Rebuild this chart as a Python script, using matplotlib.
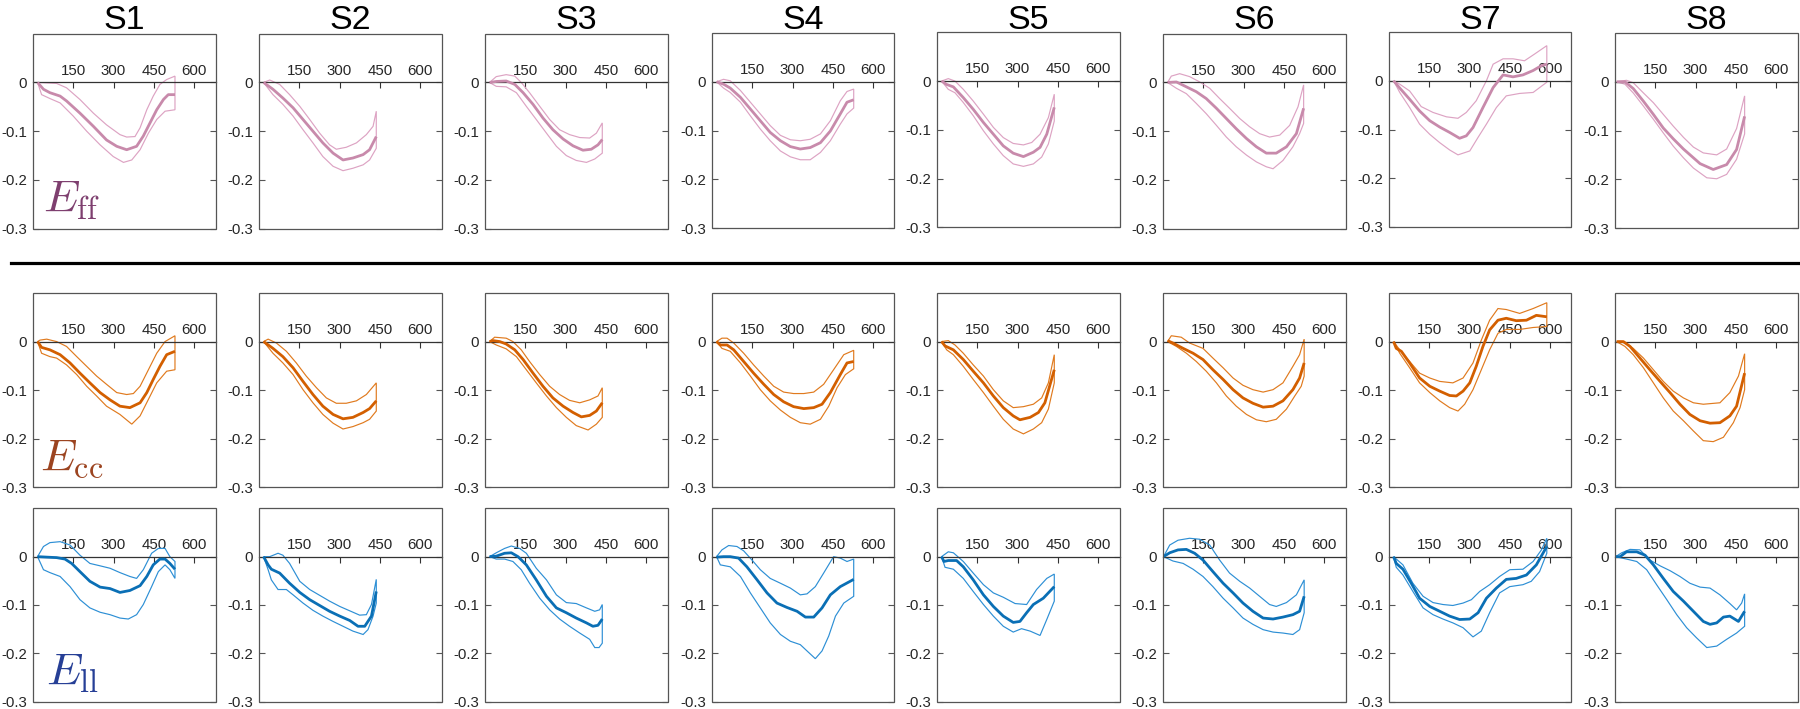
import numpy as np
import matplotlib
matplotlib.use("Agg")
import matplotlib.pyplot as plt
from matplotlib.patches import Rectangle
from matplotlib.lines import Line2D

plt.rcParams['font.family'] = ['Liberation Sans', 'DejaVu Sans']
plt.rcParams['mathtext.fontset'] = 'cm'

subjects = ['S1', 'S2', 'S3', 'S4', 'S5', 'S6', 'S7', 'S8']
y_ticks = [-0.3, -0.2, -0.1, 0.0]
y_tick_labels = ['-0.3', '-0.2', '-0.1', '0']
x_ticks = [150, 300, 450, 600]
x_tick_labels = ['150', '300', '450', '600']
row_labels = [r'$E_{\mathrm{ff}}$', r'$E_{\mathrm{cc}}$', r'$E_{\mathrm{ll}}$']

# ---------------- E_ff ----------------
eff_mean = {
    'S1': ([17, 39, 63, 101, 125, 175, 225, 274, 312, 349, 386, 411, 436, 461, 486, 504, 529],
           [0, -0.014, -0.021, -0.028, -0.038, -0.063, -0.09, -0.118, -0.131, -0.138, -0.131, -0.11, -0.083, -0.056, -0.035, -0.025, -0.025]),
    'S2': ([17, 52, 89, 127, 164, 201, 238, 276, 313, 350, 388, 412, 437],
           [0, -0.014, -0.032, -0.052, -0.076, -0.1, -0.124, -0.145, -0.159, -0.155, -0.148, -0.138, -0.111]),
    'S3': ([17, 42, 79, 111, 142, 179, 216, 253, 291, 328, 365, 396, 421, 437],
           [0, 0.002, 0.003, -0.004, -0.021, -0.045, -0.073, -0.097, -0.116, -0.13, -0.139, -0.137, -0.128, -0.117]),
    'S4': ([17, 43, 68, 106, 143, 180, 217, 255, 292, 329, 366, 404, 441, 478, 503, 528],
           [0, -0.005, -0.013, -0.032, -0.056, -0.08, -0.104, -0.121, -0.133, -0.138, -0.135, -0.125, -0.101, -0.066, -0.042, -0.037]),
    'S5': ([17, 36, 61, 98, 135, 173, 210, 247, 284, 322, 359, 384, 409, 437],
           [0, -0.007, -0.012, -0.034, -0.058, -0.085, -0.109, -0.133, -0.148, -0.155, -0.146, -0.136, -0.109, -0.054]),
    'S6': ([17, 50, 87, 124, 161, 199, 236, 273, 311, 348, 385, 422, 460, 497, 524],
           [0, 0.001, -0.009, -0.019, -0.033, -0.053, -0.074, -0.095, -0.115, -0.132, -0.145, -0.145, -0.132, -0.105, -0.053]),
    'S7': ([17, 40, 77, 114, 152, 189, 226, 263, 288, 313, 350, 388, 425, 462, 499, 537, 568, 588],
           [0, -0.015, -0.038, -0.062, -0.082, -0.095, -0.106, -0.118, -0.113, -0.096, -0.055, -0.014, 0.012, 0.008, 0.012, 0.021, 0.031, 0.034]),
    'S8': ([6, 37, 68, 106, 143, 180, 217, 255, 317, 366, 416, 453, 483],
           [0, 0, -0.014, -0.04, -0.067, -0.095, -0.117, -0.138, -0.168, -0.18, -0.17, -0.139, -0.071]),
}
eff_upper = {
    'S1': ([17, 88, 125, 175, 225, 274, 324, 349, 380, 399, 424, 448, 473, 498, 529],
           [0, -0.002, -0.011, -0.035, -0.063, -0.087, -0.107, -0.112, -0.111, -0.093, -0.056, -0.028, -0.004, 0.006, 0.013]),
    'S2': ([17, 40, 77, 114, 152, 189, 226, 263, 288, 325, 363, 400, 425, 437],
           [0, 0.005, -0.004, -0.025, -0.049, -0.076, -0.104, -0.128, -0.137, -0.133, -0.124, -0.107, -0.09, -0.059]),
    'S3': ([17, 42, 79, 111, 135, 166, 204, 241, 278, 315, 353, 390, 415, 437],
           [0, 0.012, 0.016, 0.013, 0, -0.021, -0.049, -0.076, -0.097, -0.107, -0.113, -0.114, -0.104, -0.083]),
    'S4': ([17, 43, 68, 106, 143, 180, 217, 255, 292, 329, 366, 404, 441, 478, 503, 528],
           [0, 0.005, 0.002, -0.018, -0.042, -0.066, -0.09, -0.11, -0.119, -0.121, -0.118, -0.107, -0.08, -0.039, -0.02, -0.015]),
    'S5': ([17, 42, 67, 98, 135, 173, 210, 247, 284, 322, 353, 384, 415, 437],
           [0, 0.005, 0, -0.017, -0.041, -0.068, -0.095, -0.116, -0.128, -0.131, -0.126, -0.109, -0.075, -0.027]),
    'S6': ([17, 31, 62, 99, 137, 174, 211, 248, 286, 323, 360, 397, 435, 472, 503, 524],
           [0, 0.013, 0.018, 0.012, 0.001, -0.012, -0.033, -0.053, -0.074, -0.091, -0.105, -0.112, -0.108, -0.088, -0.05, -0.005]),
    'S7': ([17, 40, 77, 120, 164, 214, 257, 288, 325, 363, 388, 425, 462, 505, 543, 588],
           [0, -0.007, -0.021, -0.053, -0.065, -0.074, -0.077, -0.065, -0.041, 0, 0.034, 0.045, 0.045, 0.041, 0.055, 0.072]),
    'S8': ([6, 43, 68, 106, 143, 180, 217, 255, 292, 329, 379, 416, 453, 483],
           [0, 0.003, -0.002, -0.023, -0.043, -0.067, -0.091, -0.114, -0.134, -0.146, -0.15, -0.138, -0.096, -0.029]),
}
eff_lower = {
    'S1': ([17, 32, 63, 101, 150, 200, 250, 299, 337, 368, 399, 430, 461, 492, 529],
           [0, -0.025, -0.033, -0.042, -0.069, -0.1, -0.128, -0.152, -0.164, -0.159, -0.138, -0.104, -0.076, -0.059, -0.056]),
    'S2': ([17, 52, 89, 127, 164, 201, 238, 276, 313, 350, 388, 412, 437],
           [0, -0.025, -0.045, -0.069, -0.097, -0.124, -0.152, -0.172, -0.181, -0.176, -0.169, -0.159, -0.135]),
    'S3': ([17, 42, 79, 117, 154, 191, 229, 266, 303, 340, 378, 409, 437],
           [0, -0.008, -0.009, -0.021, -0.049, -0.076, -0.104, -0.131, -0.15, -0.16, -0.164, -0.157, -0.145]),
    'S4': ([17, 43, 68, 106, 143, 180, 217, 255, 292, 329, 366, 404, 441, 478, 503, 528],
           [0, -0.013, -0.022, -0.042, -0.07, -0.097, -0.121, -0.142, -0.154, -0.16, -0.16, -0.145, -0.121, -0.087, -0.066, -0.054]),
    'S5': ([17, 42, 67, 98, 135, 173, 210, 247, 284, 322, 359, 390, 415, 437],
           [0, -0.017, -0.024, -0.044, -0.071, -0.102, -0.129, -0.153, -0.17, -0.175, -0.17, -0.156, -0.129, -0.082]),
    'S6': ([17, 50, 87, 124, 161, 199, 236, 273, 311, 348, 385, 410, 447, 484, 509, 524],
           [0, -0.012, -0.023, -0.043, -0.064, -0.088, -0.112, -0.132, -0.149, -0.163, -0.173, -0.177, -0.16, -0.132, -0.105, -0.084]),
    'S7': ([17, 40, 77, 114, 152, 189, 226, 257, 301, 332, 363, 400, 437, 487, 537, 588],
           [0, -0.024, -0.055, -0.089, -0.11, -0.127, -0.142, -0.152, -0.144, -0.116, -0.089, -0.055, -0.031, -0.026, -0.024, -0.003]),
    'S8': ([6, 37, 68, 106, 143, 180, 217, 255, 292, 342, 379, 416, 453, 483],
           [0, -0.005, -0.023, -0.05, -0.077, -0.105, -0.132, -0.156, -0.177, -0.197, -0.199, -0.19, -0.159, -0.107]),
}

# ---------------- E_cc ----------------
ecc_mean = {
    'S1': ([17, 32, 63, 101, 138, 175, 212, 250, 287, 324, 361, 399, 424, 448, 473, 498, 529],
           [0, -0.012, -0.017, -0.027, -0.044, -0.065, -0.085, -0.105, -0.12, -0.133, -0.136, -0.126, -0.105, -0.078, -0.051, -0.027, -0.02]),
    'S2': ([17, 52, 89, 127, 164, 201, 238, 276, 313, 350, 388, 412, 437],
           [0, -0.014, -0.031, -0.054, -0.082, -0.109, -0.133, -0.15, -0.159, -0.156, -0.146, -0.138, -0.122]),
    'S3': ([17, 30, 55, 79, 111, 142, 179, 216, 253, 291, 328, 359, 390, 415, 437],
           [0, 0.002, 0, -0.005, -0.017, -0.037, -0.065, -0.092, -0.116, -0.133, -0.146, -0.155, -0.152, -0.143, -0.126]),
    'S4': ([17, 31, 56, 81, 118, 155, 193, 230, 267, 304, 342, 379, 410, 441, 478, 503, 528],
           [0, -0.007, -0.007, -0.017, -0.041, -0.065, -0.088, -0.109, -0.124, -0.134, -0.138, -0.136, -0.129, -0.105, -0.068, -0.044, -0.041]),
    'S5': ([17, 30, 61, 98, 135, 173, 210, 247, 284, 309, 347, 378, 402, 437],
           [0, -0.009, -0.017, -0.037, -0.061, -0.085, -0.112, -0.136, -0.153, -0.161, -0.156, -0.146, -0.126, -0.058]),
    'S6': ([17, 37, 75, 112, 149, 186, 224, 261, 298, 335, 373, 410, 447, 484, 509, 526],
           [0.002, -0.003, -0.014, -0.024, -0.037, -0.058, -0.078, -0.099, -0.116, -0.127, -0.135, -0.133, -0.122, -0.099, -0.075, -0.044]),
    'S7': ([17, 27, 46, 77, 114, 152, 189, 226, 251, 276, 301, 325, 350, 375, 406, 437, 474, 512, 549, 588],
           [0, -0.014, -0.02, -0.044, -0.075, -0.092, -0.102, -0.111, -0.112, -0.102, -0.085, -0.051, -0.01, 0.024, 0.044, 0.048, 0.043, 0.044, 0.054, 0.051]),
    'S8': ([6, 31, 56, 93, 130, 168, 205, 242, 279, 317, 354, 391, 428, 453, 483],
           [0, 0, -0.01, -0.034, -0.058, -0.082, -0.105, -0.129, -0.15, -0.163, -0.168, -0.167, -0.153, -0.133, -0.065]),
}
ecc_upper = {
    'S1': ([17, 26, 51, 88, 125, 163, 200, 237, 274, 312, 349, 374, 399, 430, 461, 492, 529],
           [0, 0.003, 0.005, 0, -0.01, -0.031, -0.051, -0.071, -0.088, -0.105, -0.109, -0.107, -0.092, -0.058, -0.024, 0, 0.012]),
    'S2': ([17, 34, 65, 102, 139, 176, 214, 251, 288, 325, 363, 400, 437],
           [0, 0.005, -0.003, -0.02, -0.044, -0.071, -0.095, -0.116, -0.127, -0.127, -0.122, -0.109, -0.085]),
    'S3': ([17, 36, 79, 104, 135, 166, 204, 241, 278, 315, 353, 390, 421, 437],
           [0, 0.009, 0.007, 0, -0.017, -0.041, -0.068, -0.092, -0.109, -0.121, -0.126, -0.12, -0.112, -0.095]),
    'S4': ([17, 37, 56, 81, 118, 155, 193, 230, 267, 304, 342, 379, 416, 453, 491, 528],
           [0, 0.007, 0.007, -0.003, -0.024, -0.048, -0.071, -0.092, -0.104, -0.107, -0.107, -0.104, -0.088, -0.058, -0.027, -0.018]),
    'S5': ([17, 42, 67, 98, 135, 173, 210, 247, 284, 322, 359, 390, 415, 437],
           [0, 0.002, -0.007, -0.024, -0.048, -0.071, -0.099, -0.122, -0.136, -0.134, -0.129, -0.116, -0.085, -0.027]),
    'S6': ([17, 31, 68, 99, 149, 186, 224, 261, 298, 335, 373, 410, 447, 484, 509, 526],
           [0, 0.012, 0.009, -0.003, -0.014, -0.034, -0.054, -0.075, -0.09, -0.099, -0.104, -0.099, -0.085, -0.051, -0.027, 0.005]),
    'S7': ([17, 40, 77, 114, 152, 189, 238, 276, 313, 344, 375, 406, 437, 487, 537, 588],
           [0, -0.017, -0.041, -0.065, -0.075, -0.082, -0.085, -0.075, -0.044, 0.003, 0.044, 0.068, 0.066, 0.058, 0.068, 0.08]),
    'S8': ([6, 37, 68, 106, 143, 180, 217, 255, 292, 329, 391, 428, 460, 483],
           [0, -0.002, -0.014, -0.034, -0.058, -0.082, -0.102, -0.116, -0.126, -0.129, -0.126, -0.105, -0.071, -0.025]),
}
ecc_lower = {
    'S1': ([17, 32, 63, 88, 125, 163, 200, 237, 274, 324, 368, 399, 430, 461, 498, 529],
           [0, -0.024, -0.031, -0.034, -0.048, -0.068, -0.092, -0.112, -0.133, -0.15, -0.17, -0.153, -0.119, -0.085, -0.061, -0.058]),
    'S2': ([17, 52, 89, 127, 164, 201, 238, 276, 313, 350, 388, 412, 437],
           [0, -0.024, -0.044, -0.068, -0.099, -0.126, -0.15, -0.168, -0.18, -0.175, -0.167, -0.16, -0.143]),
    'S3': ([17, 42, 79, 117, 154, 191, 229, 266, 303, 340, 384, 415, 437],
           [0, -0.007, -0.015, -0.031, -0.058, -0.085, -0.112, -0.136, -0.156, -0.173, -0.182, -0.17, -0.156]),
    'S4': ([17, 37, 68, 106, 143, 180, 217, 255, 292, 329, 366, 404, 435, 466, 497, 528],
           [0, -0.014, -0.02, -0.044, -0.071, -0.099, -0.122, -0.141, -0.156, -0.167, -0.17, -0.16, -0.133, -0.095, -0.068, -0.056]),
    'S5': ([17, 36, 61, 98, 135, 173, 210, 247, 284, 322, 359, 390, 415, 437],
           [0, -0.017, -0.027, -0.051, -0.078, -0.105, -0.133, -0.16, -0.18, -0.19, -0.18, -0.167, -0.139, -0.085]),
    'S6': ([17, 50, 87, 124, 161, 199, 236, 273, 311, 348, 385, 422, 460, 491, 515, 526],
           [0, -0.01, -0.024, -0.041, -0.061, -0.085, -0.112, -0.133, -0.15, -0.161, -0.165, -0.16, -0.139, -0.112, -0.092, -0.071]),
    'S7': ([17, 40, 77, 114, 152, 189, 226, 257, 282, 313, 344, 375, 406, 437, 487, 537, 588],
           [0, -0.024, -0.054, -0.085, -0.105, -0.122, -0.136, -0.143, -0.129, -0.099, -0.058, -0.017, 0.017, 0.025, 0.025, 0.029, 0.031]),
    'S8': ([6, 37, 68, 106, 143, 180, 217, 255, 292, 329, 366, 404, 441, 466, 483],
           [0, -0.01, -0.027, -0.054, -0.085, -0.116, -0.143, -0.163, -0.184, -0.204, -0.206, -0.197, -0.167, -0.136, -0.099]),
}

# ---------------- E_ll ----------------
ell_mean = {
    'S1': ([17, 51, 88, 119, 144, 175, 212, 250, 287, 324, 361, 399, 424, 448, 473, 492, 510, 529],
           [0, -0.001, -0.002, -0.005, -0.014, -0.031, -0.051, -0.063, -0.066, -0.074, -0.07, -0.06, -0.041, -0.017, -0.005, -0.005, -0.014, -0.026]),
    'S2': ([17, 34, 46, 77, 114, 152, 189, 226, 263, 301, 338, 369, 394, 419, 437],
           [0, -0.017, -0.026, -0.034, -0.055, -0.074, -0.089, -0.101, -0.113, -0.123, -0.132, -0.144, -0.144, -0.123, -0.072]),
    'S3': ([17, 42, 73, 98, 123, 154, 191, 229, 266, 303, 340, 378, 402, 421, 437],
           [0, 0.001, 0.007, 0.008, 0, -0.017, -0.048, -0.082, -0.106, -0.116, -0.127, -0.137, -0.144, -0.142, -0.129]),
    'S4': ([17, 43, 68, 99, 130, 168, 205, 242, 279, 317, 348, 379, 410, 441, 478, 528],
           [-0.001, 0, 0, -0.003, -0.021, -0.048, -0.075, -0.096, -0.105, -0.113, -0.125, -0.125, -0.106, -0.079, -0.062, -0.047]),
    'S5': ([17, 26, 42, 73, 98, 135, 173, 210, 247, 284, 309, 334, 359, 396, 437],
           [0, -0.01, -0.008, -0.008, -0.021, -0.048, -0.079, -0.103, -0.123, -0.136, -0.134, -0.116, -0.099, -0.086, -0.062]),
    'S6': ([2, 25, 56, 87, 118, 149, 186, 224, 261, 298, 335, 373, 410, 447, 484, 509, 526],
           [0, 0.008, 0.014, 0.015, 0.007, -0.007, -0.031, -0.055, -0.075, -0.096, -0.113, -0.127, -0.129, -0.125, -0.12, -0.113, -0.082]),
    'S7': ([17, 27, 52, 83, 114, 152, 189, 226, 263, 301, 332, 363, 400, 437, 474, 512, 549, 588],
           [0, -0.014, -0.026, -0.055, -0.086, -0.103, -0.113, -0.123, -0.13, -0.129, -0.116, -0.086, -0.065, -0.047, -0.045, -0.038, -0.017, 0.021]),
    'S8': ([2, 19, 43, 81, 112, 143, 180, 217, 255, 292, 329, 354, 379, 404, 428, 460, 483],
           [0, 0, 0.01, 0.01, 0.003, -0.017, -0.045, -0.072, -0.092, -0.113, -0.134, -0.14, -0.137, -0.125, -0.123, -0.134, -0.113]),
}
ell_upper = {
    'S1': ([17, 39, 63, 101, 138, 175, 212, 250, 287, 324, 361, 386, 411, 442, 467, 492, 510, 529],
           [0, 0.021, 0.029, 0.031, 0.024, 0.003, -0.014, -0.019, -0.024, -0.033, -0.041, -0.045, -0.027, 0.007, 0.017, 0.017, 0, -0.01]),
    'S2': ([17, 40, 71, 89, 114, 152, 189, 226, 263, 301, 338, 375, 400, 419, 437],
           [0, 0, 0.007, 0.003, -0.014, -0.051, -0.068, -0.08, -0.092, -0.103, -0.112, -0.121, -0.12, -0.099, -0.047]),
    'S3': ([17, 42, 73, 98, 129, 154, 191, 229, 266, 303, 340, 378, 409, 427, 437],
           [0, 0.008, 0.017, 0.022, 0.017, 0.007, -0.024, -0.048, -0.079, -0.095, -0.097, -0.106, -0.113, -0.11, -0.099]),
    'S4': ([17, 37, 62, 93, 118, 149, 180, 217, 255, 292, 329, 354, 385, 416, 453, 478, 503, 528],
           [0, 0.014, 0.023, 0.021, 0.012, -0.007, -0.027, -0.045, -0.055, -0.065, -0.079, -0.077, -0.062, -0.034, 0, -0.003, -0.01, -0.005]),
    'S5': ([17, 42, 61, 98, 135, 173, 210, 247, 291, 334, 371, 409, 437],
           [0, 0.01, 0.008, -0.01, -0.034, -0.058, -0.075, -0.084, -0.097, -0.099, -0.068, -0.045, -0.036]),
    'S6': ([2, 25, 56, 99, 137, 174, 211, 248, 286, 323, 360, 397, 422, 460, 497, 526],
           [0, 0.024, 0.034, 0.038, 0.036, 0.024, -0.007, -0.034, -0.051, -0.065, -0.082, -0.099, -0.103, -0.095, -0.079, -0.048]),
    'S7': ([17, 52, 89, 127, 164, 201, 238, 276, 307, 338, 375, 412, 450, 499, 537, 568, 588],
           [0, -0.017, -0.055, -0.082, -0.095, -0.099, -0.101, -0.096, -0.089, -0.072, -0.058, -0.041, -0.027, -0.026, -0.01, 0.014, 0.038]),
    'S8': ([2, 25, 56, 93, 130, 168, 205, 242, 279, 317, 354, 391, 428, 453, 472, 483],
           [0, 0.008, 0.015, 0.014, -0.007, -0.019, -0.029, -0.041, -0.055, -0.063, -0.065, -0.079, -0.097, -0.11, -0.096, -0.077]),
}
ell_lower = {
    'S1': ([17, 39, 63, 101, 138, 175, 212, 250, 287, 324, 355, 386, 411, 442, 467, 492, 510, 529],
           [0, -0.027, -0.033, -0.041, -0.062, -0.089, -0.106, -0.115, -0.12, -0.127, -0.129, -0.12, -0.099, -0.062, -0.031, -0.017, -0.027, -0.045]),
    'S2': ([17, 34, 46, 71, 102, 127, 164, 201, 238, 276, 313, 350, 388, 406, 425, 437],
           [0, -0.027, -0.048, -0.068, -0.068, -0.079, -0.096, -0.111, -0.123, -0.134, -0.144, -0.154, -0.161, -0.151, -0.123, -0.096]),
    'S3': ([17, 42, 73, 104, 135, 166, 204, 241, 278, 315, 353, 390, 409, 425, 437],
           [0, -0.005, -0.005, -0.01, -0.027, -0.055, -0.086, -0.11, -0.129, -0.144, -0.158, -0.171, -0.188, -0.188, -0.179]),
    'S4': ([17, 31, 68, 106, 143, 180, 217, 255, 292, 329, 354, 385, 410, 435, 460, 491, 528],
           [0, -0.017, -0.021, -0.041, -0.075, -0.106, -0.137, -0.161, -0.175, -0.182, -0.195, -0.211, -0.195, -0.164, -0.123, -0.096, -0.082]),
    'S5': ([17, 30, 61, 98, 135, 173, 210, 247, 284, 315, 347, 384, 409, 437],
           [0, -0.022, -0.026, -0.045, -0.072, -0.099, -0.123, -0.144, -0.156, -0.149, -0.154, -0.163, -0.13, -0.092]),
    'S6': ([2, 37, 75, 112, 149, 186, 224, 261, 298, 335, 373, 410, 447, 484, 509, 526],
           [0, -0.009, -0.014, -0.026, -0.041, -0.062, -0.086, -0.106, -0.127, -0.14, -0.151, -0.156, -0.158, -0.161, -0.151, -0.116]),
    'S7': ([17, 27, 52, 89, 127, 164, 201, 238, 276, 313, 344, 375, 412, 450, 499, 530, 561, 588],
           [0, -0.022, -0.038, -0.072, -0.106, -0.12, -0.129, -0.137, -0.147, -0.166, -0.154, -0.116, -0.075, -0.062, -0.058, -0.051, -0.031, 0.007]),
    'S8': ([2, 43, 81, 118, 155, 193, 230, 267, 304, 342, 379, 416, 453, 483],
           [0, -0.005, -0.01, -0.027, -0.058, -0.089, -0.12, -0.147, -0.168, -0.188, -0.185, -0.171, -0.158, -0.144]),
}

rows = [
    (eff_mean, eff_upper, eff_lower, '#c88aab', '#dda3c3', '#7e3f6f'),
    (ecc_mean, ecc_upper, ecc_lower, '#d35f00', '#e07a1e', '#9c4420'),
    (ell_mean, ell_upper, ell_lower, '#0a6fb5', '#2d8fd5', '#263f96'),
]

# ---------------- layout (pixels) ----------------
W, H = 1800, 709
fig = plt.figure(figsize=(W / 100, H / 100), dpi=100)
col_left = [33, 259, 485, 712, 937, 1163, 1389, 1615]
ax_w = 182.5
row1_top = [33.7, 33.7, 33.7, 33.0, 32.3, 33.7, 32.0, 33.0]
row_tops = [row1_top, [293.0] * 8, [508.3] * 8]
row_h = [195.0, 194.3, 193.4]
label_pos = [(43, 212), (40, 471), (46, 685)]

frame_col = '#555555'
text_col = '#262626'

for r, (mean_d, up_d, lo_d, mcol, bcol, tcol) in enumerate(rows):
    for c, s in enumerate(subjects):
        top = row_tops[r][c]
        ax = fig.add_axes([col_left[c] / W, 1 - (top + row_h[r]) / H, ax_w / W, row_h[r] / H])
        ax.set_xlim(0, 680)
        ax.set_ylim(-0.3, 0.1)
        ux, uy = up_d[s]
        lx, ly = lo_d[s]
        ax.fill(np.r_[ux, lx[::-1]], np.r_[uy, ly[::-1]], fc='none', ec=bcol, lw=0.85, zorder=2)
        mx, my = mean_d[s]
        ax.plot(mx, my, color=mcol, lw=2.0, zorder=3, solid_capstyle='butt')

        for side in ['left', 'right', 'bottom']:
            ax.spines[side].set_visible(False)
        ax.spines['top'].set_position(('data', 0))
        ax.spines['top'].set_color('#333333')
        ax.spines['top'].set_linewidth(0.9)
        ax.add_patch(Rectangle((0, 0), 1, 1, transform=ax.transAxes, fill=False,
                               ec=frame_col, lw=0.9, clip_on=False, zorder=5))

        ax.xaxis.set_ticks_position('top')
        ax.set_xticks(x_ticks)
        ax.set_xticklabels(x_tick_labels)
        ax.tick_params(axis='x', direction='in', length=4, width=0.8, color='#333333',
                       labelsize=10.8, labelcolor=text_col, pad=3.5)
        ax.set_yticks(y_ticks)
        ax.set_yticklabels(y_tick_labels)
        ax.yaxis.set_ticks_position('both')
        ax.tick_params(axis='y', direction='in', length=4, width=0.8, color=frame_col,
                       labelsize=10.8, labelcolor=text_col, pad=4.3)

        if r == 0:
            fig.text((col_left[c] + ax_w / 2) / W, 1 - 29 / H, s, ha='center', va='baseline',
                     fontsize=24.5, color='black')
        if c == 0:
            lx0, ly0 = label_pos[r]
            fig.text(lx0 / W, 1 - ly0 / H, row_labels[r], ha='left', va='baseline',
                     fontsize=33, color=tcol)

fig.add_artist(Line2D([11 / W, 1798 / W], [1 - 263.3 / H, 1 - 263.3 / H],
                      transform=fig.transFigure, color='black', lw=2.3))

fig.savefig('out.png', dpi=100)
